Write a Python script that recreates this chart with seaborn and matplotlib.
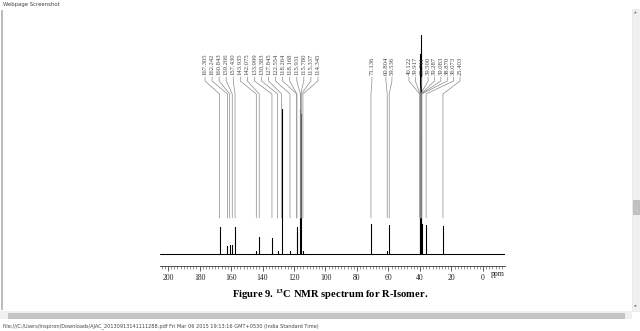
import numpy as np
import pandas as pd
import matplotlib
matplotlib.use("Agg")
import matplotlib.pyplot as plt
from matplotlib.patches import Rectangle
import seaborn as sns

# ---------------- data ----------------
peak_ppm = [167.305, 162.242, 160.843, 159.206, 157.430, 143.935, 142.075,
            133.999, 130.383, 127.845, 122.554, 118.264, 118.168, 115.931,
            115.780, 115.337, 114.345,
            71.136, 60.804, 59.536,
            40.122, 39.917, 39.711, 39.500, 39.287, 39.083, 38.870,
            36.073, 25.403]
peak_height = [27, 8, 9, 9, 27, 3, 17,
               16, 3, 145, 3, 27, 22, 145,
               140, 4, 3,
               30, 3, 29,
               30, 120, 200, 219, 205, 120, 30,
               29, 28]
label_groups = [
    ["167.305", "162.242", "160.843", "159.206", "157.430", "143.935", "142.075",
     "133.999", "130.383", "127.845", "122.554", "118.264", "118.168", "115.931",
     "115.780", "115.337", "114.345"],
    ["71.136"],
    ["60.804", "59.536"],
    ["40.122", "39.917", "39.711", "39.500", "39.287", "39.083", "38.870",
     "36.073", "25.403"],
]
x_ticks = [200, 180, 160, 140, 120, 100, 80, 60, 40, 20, 0]
caption_text = r"Figure 9. $^{\mathbf{13}}$C NMR spectrum for R-Isomer."
header_text = "Webpage Screenshot"
footer_text = ("file:///C:/Users/Inspiron/Downloads/AJAC_20130913141111288.pdf "
               "Fri Mar 06 2015 19:13:16 GMT+0530 (India Standard Time)")

# ---------------- style ----------------
sns.set_style("white")
plt.rcParams["font.family"] = ["Liberation Serif", "DejaVu Serif"]
plt.rcParams["mathtext.fontset"] = "stix"

W, H = 640, 331
fig = plt.figure(figsize=(W / 100, H / 100), dpi=100)
fig.patch.set_facecolor("white")

def fx(px):
    return px / W

def fy(py):
    return 1 - py / H

# axes: x from px 160 to 505, y from px 30 to 266 (1 data unit = 1 px)
ax = fig.add_axes([fx(160), fy(266), fx(505) - fx(160), fy(30) - fy(266)])
ax.set_xlim(205.1, -14.0)
ax.set_ylim(-12, 224)
ax.patch.set_alpha(0)

# spectrum as stick line
order = np.argsort(peak_ppm)[::-1]
xs, ys = [205.1], [0.0]
for i in order:
    p, h = peak_ppm[i], peak_height[i]
    xs += [p, p, p]
    ys += [0.0, h, 0.0]
xs.append(-14.0)
ys.append(0.0)
spec = pd.DataFrame({"ppm": xs, "I": ys})
sns.lineplot(data=spec, x="ppm", y="I", sort=False, estimator=None,
             color="black", linewidth=0.75, ax=ax)

# peak labels with leader lines
group_spans = [(176.5, 104.8), (70.5, 70.5), (61.6, 57.8), (47.0, 14.6)]
for grp, (a, b) in zip(label_groups, group_spans):
    pos = np.linspace(a, b, len(grp)) if len(grp) > 1 else np.array([a])
    for s, lx in zip(grp, pos):
        px = float(s)
        ax.plot([lx, lx, px, px], [177, 173, 160, 36], color="#8a8a8a",
                linewidth=0.5, clip_on=False)
        ax.text(lx, 179, s, rotation=90, ha="center", va="bottom",
                fontsize=4.8, color="#444444", clip_on=False)

# axis styling
for s in ["left", "right", "top"]:
    ax.spines[s].set_visible(False)
ax.spines["bottom"].set_color("#333333")
ax.spines["bottom"].set_linewidth(0.6)
ax.set_yticks([])
ax.set_xticks(x_ticks)
ax.set_xticklabels([str(t) for t in x_ticks])
ax.set_xticks(np.arange(204, -14, -2), minor=True)
ax.tick_params(axis="x", which="major", direction="out", length=3.5, width=0.5,
               pad=2.5, labelsize=5.5, colors="#222222", bottom=True)
ax.tick_params(axis="x", which="minor", direction="out", length=1.8, width=0.4,
               bottom=True, colors="#444444")
ax.set_xlabel("")
ax.set_ylabel("")
fig.text(fx(498), fy(274), "ppm", ha="center", va="center",
         fontsize=5.5, color="#222222")

# caption
fig.text(fx(330), fy(295), caption_text, ha="center", va="center",
         fontsize=7.6, fontweight="bold", color="black")

# page chrome
fig.text(fx(3), fy(4.5), header_text, ha="left", va="center", fontsize=3.9,
         color="#444444", family=["DejaVu Sans"])
fig.text(fx(3), fy(326), footer_text, ha="left", va="center", fontsize=3.6,
         color="#444444", family=["DejaVu Sans"])
fig.add_artist(Rectangle((fx(1), fy(310)), fx(3) - fx(1), fy(10) - fy(310),
                         transform=fig.transFigure, facecolor="#bdbdbd",
                         edgecolor="none"))
fig.add_artist(Rectangle((fx(632), fy(311)), fx(640) - fx(632), fy(9) - fy(311),
                         transform=fig.transFigure, facecolor="#f0f0f0",
                         edgecolor="#e0e0e0", linewidth=0.4))
fig.add_artist(Rectangle((fx(633), fy(214)), fx(638.5) - fx(633), fy(200) - fy(214),
                         transform=fig.transFigure, facecolor="#c2c2c2",
                         edgecolor="#a8a8a8", linewidth=0.4))
fig.text(fx(635.8), fy(13), "▲", ha="center", va="center", fontsize=2.5,
         color="#777777", family=["DejaVu Sans"])
fig.text(fx(635.8), fy(307), "▼", ha="center", va="center", fontsize=2.5,
         color="#777777", family=["DejaVu Sans"])
fig.add_artist(Rectangle((fx(0), fy(319)), fx(632) - fx(0), fy(311) - fy(319),
                         transform=fig.transFigure, facecolor="#f0f0f0",
                         edgecolor="none"))
fig.add_artist(Rectangle((fx(8), fy(318)), fx(624) - fx(8), fy(312.5) - fy(318),
                         transform=fig.transFigure, facecolor="#c6c6c6",
                         edgecolor="#b0b0b0", linewidth=0.4))

fig.savefig("out.png", dpi=100, facecolor="white")
